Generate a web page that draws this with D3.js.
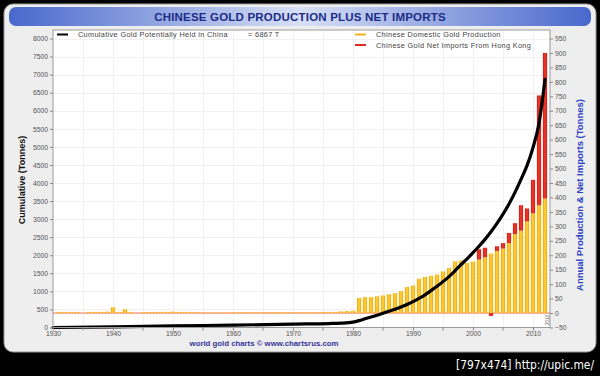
<!DOCTYPE html>
<html>
<head>
<meta charset="utf-8">
<script src="https://cdn.jsdelivr.net/npm/d3@7"></script>
<style>
  body { margin: 0; background: #000; }
  svg { display: block; }
</style>
</head>
<body>
<script>
// annual values (tonnes), right axis
const years = [
  1930, 1931, 1932, 1933, 1934, 1935, 1936, 1937, 1938, 1939,
  1940, 1941, 1942, 1943, 1944, 1945, 1946, 1947, 1948, 1949,
  1950, 1951, 1952, 1953, 1954, 1955, 1956, 1957, 1958, 1959,
  1960, 1961, 1962, 1963, 1964, 1965, 1966, 1967, 1968, 1969,
  1970, 1971, 1972, 1973, 1974, 1975, 1976, 1977, 1978, 1979,
  1980, 1981, 1982, 1983, 1984, 1985, 1986, 1987, 1988, 1989,
  1990, 1991, 1992, 1993, 1994, 1995, 1996, 1997, 1998, 1999,
  2000, 2001, 2002, 2003, 2004, 2005, 2006, 2007, 2008, 2009,
  2010, 2011, 2012
];
const production = [
  0, 4, 4, 4, 4, 0, 4, 4, 4, 5,
  20, 4, 13, 4, 0, 3, 4, 4, 4, 4,
  5, 4, 4, 4, 3, 2, 2, 2, 2, 2,
  3, 3, 3, 3, 3, 3, 3, 3, 3, 3,
  3, 3, 3, 3, 3, 4, 4, 4, 6, 7,
  8, 52, 55, 55, 58, 61, 65, 69, 76, 90,
  95, 119, 125, 129, 133, 144, 156, 179, 182, 173,
  178, 185, 193, 206, 215, 223, 242, 273, 285, 317,
  345, 373, 396
];
const netImports = [
  0, 0, 0, 0, 0, 0, 0, 0, 0, 0,
  0, 0, 0, 0, 0, 0, 0, 0, 0, 0,
  0, 0, 0, 0, 0, 0, 0, 0, 0, 0,
  0, 0, 0, 0, 0, 0, 0, 0, 0, 0,
  0, 0, 0, 0, 0, 0, 0, 0, 0, 0,
  0, 0, 0, 0, 0, 0, 0, 0, 0, 0,
  0, 0, 0, 0, 0, 0, 0, 0, 0, 0,
  0, 36, 33, -10, 16, 19, 35, 38, 88, 45,
  116, 380, 504
];

// cumulative line (tonnes), left axis
const cumYears = [1930, 1940, 1950, 1960, 1970, 1976, 1978, 1980, 1981, 1982, 1983, 1984,
  1985, 1986, 1987, 1988, 1989, 1990, 1991, 1992, 1993, 1994, 1995, 1996, 1997, 1998,
  1999, 2000, 2001, 2002, 2003, 2004, 2005, 2006, 2007, 2008, 2009, 2010, 2011, 2012];
const cumulative = [0, 15, 45, 65, 95, 110, 120, 150, 190, 240, 290, 340,
  395, 450, 505, 565, 635, 715, 805, 905, 1020, 1140, 1270, 1410, 1570, 1740,
  1900, 2070, 2250, 2440, 2650, 2880, 3140, 3420, 3740, 4100, 4480, 4980, 5650, 6867];

const leftTicks = [0, 500, 1000, 1500, 2000, 2500, 3000, 3500, 4000, 4500, 5000, 5500, 6000, 6500, 7000, 7500, 8000];
const rightTicks = [-50, 0, 50, 100, 150, 200, 250, 300, 350, 400, 450, 500, 550, 600, 650, 700, 750, 800, 850, 900, 950];
const yearTicks = [1930, 1940, 1950, 1960, 1970, 1980, 1990, 2000, 2010];
const minorYearTicks = [1935, 1945, 1955, 1965, 1975, 1985, 1995, 2005];

const W = 600, H = 376;
const svg = d3.select('body').append('svg').attr('width', W).attr('height', H);
const defs = svg.append('defs');

const tg = defs.append('linearGradient').attr('id', 'titleGrad');
tg.append('stop').attr('offset', '0%').attr('stop-color', '#4868cc');
tg.append('stop').attr('offset', '50%').attr('stop-color', '#d8e0f6');
tg.append('stop').attr('offset', '100%').attr('stop-color', '#4868cc');

const yg = defs.append('linearGradient').attr('id', 'yelGrad');
yg.append('stop').attr('offset', '0%').attr('stop-color', '#f2a300');
yg.append('stop').attr('offset', '50%').attr('stop-color', '#ffd440');
yg.append('stop').attr('offset', '100%').attr('stop-color', '#f2a300');

const rg = defs.append('linearGradient').attr('id', 'redGrad');
rg.append('stop').attr('offset', '0%').attr('stop-color', '#cc1a14');
rg.append('stop').attr('offset', '50%').attr('stop-color', '#f03a2c');
rg.append('stop').attr('offset', '100%').attr('stop-color', '#cc1a14');

// panel
svg.append('rect').attr('x', 4).attr('y', 4).attr('width', 592).attr('height', 348)
  .attr('rx', 9).attr('fill', '#eeeeee').attr('stroke', '#9a9a9a');
svg.append('rect').attr('x', 9).attr('y', 7).attr('width', 582).attr('height', 19)
  .attr('rx', 7).attr('fill', 'url(#titleGrad)');
svg.append('text').attr('x', 300).attr('y', 20.5).attr('text-anchor', 'middle')
  .attr('font-family', 'Liberation Sans, Arial, sans-serif').attr('font-weight', 'bold')
  .attr('font-size', 11.5).attr('fill', '#1c2c86').attr('letter-spacing', 0.2)
  .text('CHINESE GOLD PRODUCTION PLUS NET IMPORTS');

const pLeft = 53, pRight = 550, pTop = 30, pBottom = 327.5;

const x = d3.scaleLinear().domain([1930, 2013]).range([53, 551]);
const yL = d3.scaleLinear().domain([0, 8000]).range([327.5, 38.5]);
const yR = d3.scaleLinear().domain([-50, 950]).range([327.5, 38.5]);

// plot background
svg.append('rect').attr('x', pLeft).attr('y', pTop).attr('width', pRight - pLeft).attr('height', pBottom - pTop)
  .attr('fill', '#ffffff');

// grid
const grid = svg.append('g').attr('stroke', '#f0f0f0').attr('stroke-width', 1);
grid.selectAll('line.h').data(leftTicks.slice(1)).enter().append('line')
  .attr('x1', pLeft).attr('x2', pRight)
  .attr('y1', d => Math.round(yL(d)) + 0.5).attr('y2', d => Math.round(yL(d)) + 0.5);
grid.selectAll('line.v').data(yearTicks.concat(minorYearTicks).filter(d => d > 1930)).enter().append('line')
  .attr('y1', pTop).attr('y2', pBottom)
  .attr('x1', d => Math.round(x(d)) + 0.5).attr('x2', d => Math.round(x(d)) + 0.5);

// zero line of right axis
svg.append('line').attr('x1', pLeft).attr('x2', pRight)
  .attr('y1', yR(0)).attr('y2', yR(0)).attr('stroke', '#f07050').attr('stroke-width', 1);

// bars
const rows = years.map((yr, i) => ({ year: yr, prod: production[i], imp: netImports[i] }));
const bw = 4.2;
svg.append('g').selectAll('rect').data(rows.filter(d => d.prod > 0)).enter().append('rect')
  .attr('x', d => x(d.year) - bw / 2).attr('width', bw)
  .attr('y', d => yR(d.prod)).attr('height', d => yR(0) - yR(d.prod))
  .attr('fill', 'url(#yelGrad)');
svg.append('g').selectAll('rect').data(rows.filter(d => d.imp !== 0)).enter().append('rect')
  .attr('x', d => x(d.year) - bw / 2).attr('width', bw)
  .attr('y', d => d.imp > 0 ? yR(d.prod + d.imp) : yR(0))
  .attr('height', d => Math.abs(yR(0) - yR(Math.abs(d.imp))))
  .attr('fill', 'url(#redGrad)');

// cumulative line
const pts = cumYears.map((yr, i) => [yr, cumulative[i]]);
svg.append('path').datum(pts)
  .attr('fill', 'none').attr('stroke', '#000').attr('stroke-width', 3.2)
  .attr('stroke-linecap', 'round')
  .attr('d', d3.line().curve(d3.curveMonotoneX).x(d => x(d[0])).y(d => yL(d[1])));

// frame
svg.append('rect').attr('x', pLeft).attr('y', pTop).attr('width', pRight - pLeft).attr('height', pBottom - pTop)
  .attr('fill', 'none').attr('stroke', '#9a9a9a').attr('stroke-width', 1);

const tickFont = 'Liberation Sans, Arial, sans-serif';

// left axis
const gl = svg.append('g').attr('transform', 'translate(' + pLeft + ',0)')
  .call(d3.axisLeft(yL).tickValues(leftTicks).tickFormat(d3.format('d')).tickSize(3).tickPadding(2));
// right axis
const gr = svg.append('g').attr('transform', 'translate(' + pRight + ',0)')
  .call(d3.axisRight(yR).tickValues(rightTicks).tickFormat(d3.format('d')).tickSize(3).tickPadding(2));
// bottom axis
const gb = svg.append('g').attr('transform', 'translate(0,' + pBottom + ')')
  .call(d3.axisBottom(x).tickValues(yearTicks).tickFormat(d3.format('d')).tickSize(3).tickPadding(1));
svg.append('g').selectAll('line').data(minorYearTicks).enter().append('line')
  .attr('x1', d => x(d)).attr('x2', d => x(d)).attr('y1', pBottom).attr('y2', pBottom + 3)
  .attr('stroke', '#888');

[gl, gr, gb].forEach(g => {
  g.select('.domain').remove();
  g.selectAll('line').attr('stroke', '#888');
  g.selectAll('text').attr('font-family', tickFont).attr('font-size', 6.8).attr('fill', '#555');
});

// 2012 marker label
svg.append('text').attr('transform', 'translate(' + (x(2012) + 3.5) + ',' + 325 + ') rotate(-90)')
  .attr('font-family', tickFont).attr('font-size', 4.5).attr('fill', '#555').text('2012');

// axis titles
svg.append('text').attr('transform', 'translate(25,180) rotate(-90)').attr('text-anchor', 'middle')
  .attr('font-family', tickFont).attr('font-weight', 'bold').attr('font-size', 9)
  .attr('fill', '#111').text('Cumulative (Tonnes)');
svg.append('text').attr('transform', 'translate(583,195) rotate(-90)').attr('text-anchor', 'middle')
  .attr('font-family', tickFont).attr('font-weight', 'bold').attr('font-size', 9.5)
  .attr('fill', '#2b3fc4').text('Annual Production & Net Imports (Tonnes)');

// legend
const legend = [
  { x: 57, y: 34.5, color: '#000', label: 'Cumulative Gold Potentially Held in China' },
  { x: 355, y: 34.5, color: '#f5b020', label: 'Chinese Domestic Gold Production' },
  { x: 355, y: 45, color: '#e02a20', label: 'Chinese Gold Net Imports From Hong Kong' }
];
const lg = svg.append('g');
legend.forEach(d => {
  lg.append('line').attr('x1', d.x).attr('x2', d.x + 11).attr('y1', d.y).attr('y2', d.y)
    .attr('stroke', d.color).attr('stroke-width', 2);
  lg.append('text').attr('x', d.x + 21).attr('y', d.y + 2.5)
    .attr('font-family', tickFont).attr('font-size', 7.3).attr('letter-spacing', 0.35)
    .attr('fill', '#444').text(d.label);
});
lg.append('text').attr('x', 248).attr('y', 37)
  .attr('font-family', tickFont).attr('font-size', 7.3).attr('letter-spacing', 0.35)
  .attr('fill', '#444').text('= 6867 T');

// footer
svg.append('text').attr('x', 264).attr('y', 346).attr('text-anchor', 'middle')
  .attr('font-family', tickFont).attr('font-weight', 'bold').attr('font-size', 7.8)
  .attr('fill', '#34359a').text('world gold charts \u00a9 www.chartsrus.com');

// image host stamp
svg.append('text').attr('x', 594).attr('y', 369).attr('text-anchor', 'end')
  .attr('font-family', 'DejaVu Sans Condensed, DejaVu Sans, sans-serif').attr('font-size', 12)
  .attr('textLength', 138).attr('lengthAdjust', 'spacingAndGlyphs')
  .attr('fill', '#fff').text('[797x474] http://upic.me/');
</script>
</body>
</html>
